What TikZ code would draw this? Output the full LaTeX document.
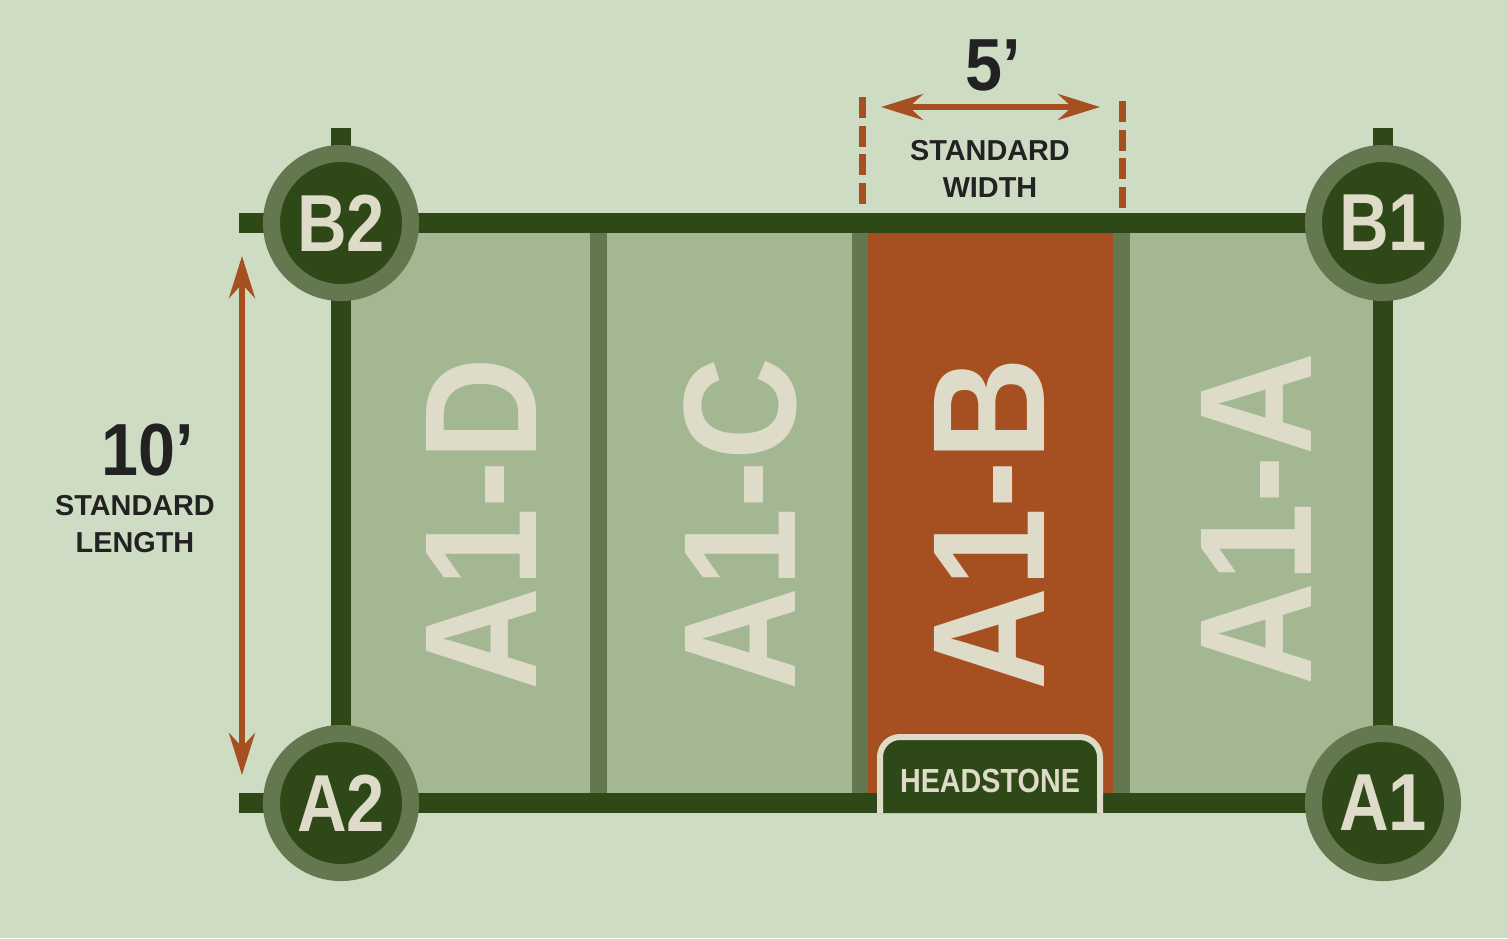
\documentclass[tikz,border=0pt]{standalone}
\usepackage{fontspec}
\setmainfont{Liberation Sans}
\usetikzlibrary{arrows.meta}

\definecolor{bgcol}{HTML}{CFDCC4}
\definecolor{cellcol}{HTML}{A3B793}
\definecolor{ringcol}{HTML}{63784F}
\definecolor{darkcol}{HTML}{2F4818}
\definecolor{rustcol}{HTML}{A64F21}
\definecolor{creamcol}{HTML}{DEDCC8}
\definecolor{inkcol}{HTML}{222222}

\newcommand{\squeeze}[2]{\scalebox{#1}[1]{#2}}

\begin{document}
\begin{tikzpicture}[x=0.01cm, y=-0.01cm,
    frame/.style={draw=darkcol, line width=0.2cm},
    corner/.style={circle, draw=ringcol, line width=0.17cm, fill=darkcol,
        minimum size=1.39cm, inner sep=0pt, text=creamcol,
        font=\fontsize{23}{23}\selectfont\bfseries},
    plotname/.style={rotate=90, inner sep=0pt, text=creamcol,
        font=\fontsize{45.5}{45.5}\selectfont\bfseries},
    dimarrow/.style={draw=rustcol, line width=0.06cm,
        {Stealth[length=0.42cm, width=0.26cm, inset=0.14cm]}-{Stealth[length=0.42cm, width=0.26cm, inset=0.14cm]}},
    guide/.style={draw=rustcol, line width=0.07cm, dash pattern=on 0.21cm off 0.075cm},
    dimtext/.style={text=inkcol, align=center, inner sep=0pt,
        font=\fontsize{8.2}{10.7}\selectfont\bfseries},
    bignum/.style={text=inkcol, inner sep=0pt,
        font=\fontsize{21}{21}\selectfont\bfseries}]

    % background
    \fill[bgcol] (0,0) rectangle (1508,938);
    \useasboundingbox (0,0) rectangle (1508,938);

    % plots
    \fill[ringcol] (351,233) rectangle (1373,793);
    \fill[cellcol] (351,233) rectangle (590,793);
    \fill[cellcol] (607,233) rectangle (852,793);
    \fill[rustcol] (868,233) rectangle (1113,793);
    \fill[cellcol] (1130,233) rectangle (1373,793);

    \node[plotname] (plotd) at (481,524) {\squeeze{0.89}{A1-D}};
    \node[plotname] (plotc) at (740,524) {\squeeze{0.89}{A1-C}};
    \node[plotname] (plotb) at (989,524) {\squeeze{0.89}{A1-B}};
    \node[plotname] (plota) at (1256,519) {\squeeze{0.89}{A1-A}};

    % frame and stubs
    \draw[frame] (341,223) rectangle (1383,803);
    \draw[frame] (341,128) -- (341,223);
    \draw[frame] (239,223) -- (341,223);
    \draw[frame] (239,803) -- (341,803);
    \draw[frame] (1383,128) -- (1383,223);

    % headstone
    \filldraw[fill=darkcol, draw=creamcol, line width=0.06cm]
        (880,813) -- (880,757) arc (180:270:20) -- (1080,737) arc (270:360:20) -- (1100,813);
    \node[text=creamcol, inner sep=0pt, font=\fontsize{9.5}{9.5}\selectfont\bfseries]
        (stone) at (990,781) {\squeeze{0.86}{HEADSTONE}};

    % corner markers
    \node[corner] (b2) at (341,223) {\squeeze{0.85}{B2}};
    \node[corner] (b1) at (1383,223) {\squeeze{0.85}{B1}};
    \node[corner] (a2) at (341,803) {\squeeze{0.85}{A2}};
    \node[corner] (a1) at (1383,803) {\squeeze{0.85}{A1}};

    % length
    \coordinate (lentop) at (242,256);
    \coordinate (lenbot) at (242,775);
    \draw[dimarrow] (lentop) -- (lenbot);
    \node[bignum] (lennum) at (148,450) {\squeeze{0.9}{10’}};
    \node[dimtext] (lentxt) at (135,524) {STANDARD\\LENGTH};

    % width
    \coordinate (guidel) at (862,97);
    \coordinate (guidelb) at (862,206);
    \coordinate (guider) at (1122,101);
    \coordinate (guiderb) at (1122,210);
    \draw[guide] (guidel) -- (guidelb);
    \draw[guide] (guider) -- (guiderb);
    \coordinate (widl) at (881,107);
    \coordinate (widr) at (1100,107);
    \draw[dimarrow] (widl) -- (widr);
    \node[bignum] (widnum) at (993,65) {\squeeze{0.9}{5’}};
    \node[dimtext] (widtxt) at (990,169) {STANDARD\\WIDTH};
\end{tikzpicture}
\end{document}
